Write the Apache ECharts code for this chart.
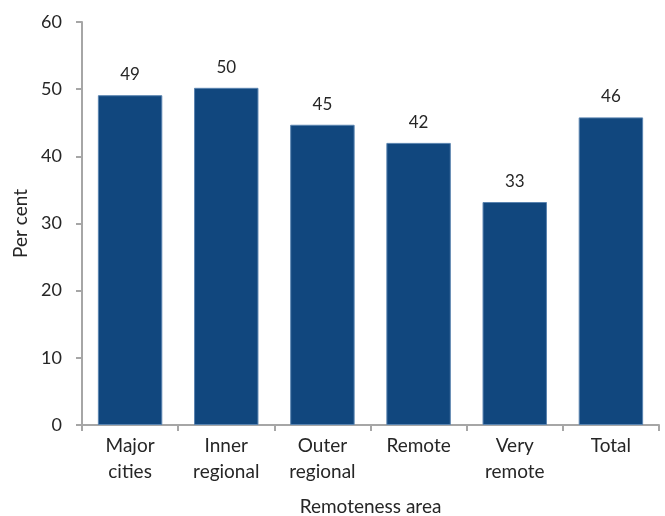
<!DOCTYPE html>
<html><head><meta charset="utf-8">
<script src="https://cdn.jsdelivr.net/npm/echarts@6/dist/echarts.min.js"></script>
<style>html,body{margin:0;padding:0;background:#fff}#c{width:665px;height:516px}</style>
</head><body><div id="c"></div>
<script>
const categories = ['Major\ncities', 'Inner\nregional', 'Outer\nregional', 'Remote', 'Very\nremote', 'Total'];
const values = [49.1, 50.2, 44.7, 42.0, 33.2, 45.8];
const labels = ['49', '50', '45', '42', '33', '46'];
const yTicks = [0, 10, 20, 30, 40, 50, 60];

const font = 'Lato, "Open Sans", sans-serif';
const chart = echarts.init(document.getElementById('c'), null, {renderer: 'canvas'});
chart.setOption({
  animation: false,
  grid: {left: 82, right: 6, top: 22, bottom: 91, outerBoundsMode: 'none', containLabel: false},
  xAxis: {
    type: 'category', data: categories,
    name: 'Remoteness area', nameLocation: 'middle', nameGap: 72,
    nameTextStyle: {fontFamily: font, fontSize: 19, color: '#262626'},
    axisLine: {lineStyle: {color: '#a6a6a6', width: 2}},
    axisTick: {show: true, length: 6, lineStyle: {color: '#a6a6a6', width: 2}},
    axisLabel: {fontFamily: font, fontSize: 19, color: '#262626', lineHeight: 26, margin: 8}
  },
  yAxis: {
    type: 'value', min: 0, max: 60, interval: 10,
    name: 'Per cent', nameLocation: 'middle', nameGap: 50,
    nameTextStyle: {fontFamily: font, fontSize: 19, color: '#262626'},
    axisLine: {show: true, lineStyle: {color: '#a6a6a6', width: 2}},
    axisTick: {show: true, length: 6, lineStyle: {color: '#a6a6a6', width: 2}},
    splitLine: {show: false},
    axisLabel: {fontFamily: font, fontSize: 18, color: '#262626', margin: 20,
      formatter: v => yTicks.includes(v) ? String(v) : ''}
  },
  series: [{
    type: 'bar', data: values, barCategoryGap: '33%',
    itemStyle: {color: '#11477e', borderColor: '#5a84b0', borderWidth: 1},
    label: {show: true, position: 'top', distance: 12, fontFamily: font, fontSize: 17, color: '#262626',
      formatter: p => labels[p.dataIndex]}
  }]
});
</script></body></html>
